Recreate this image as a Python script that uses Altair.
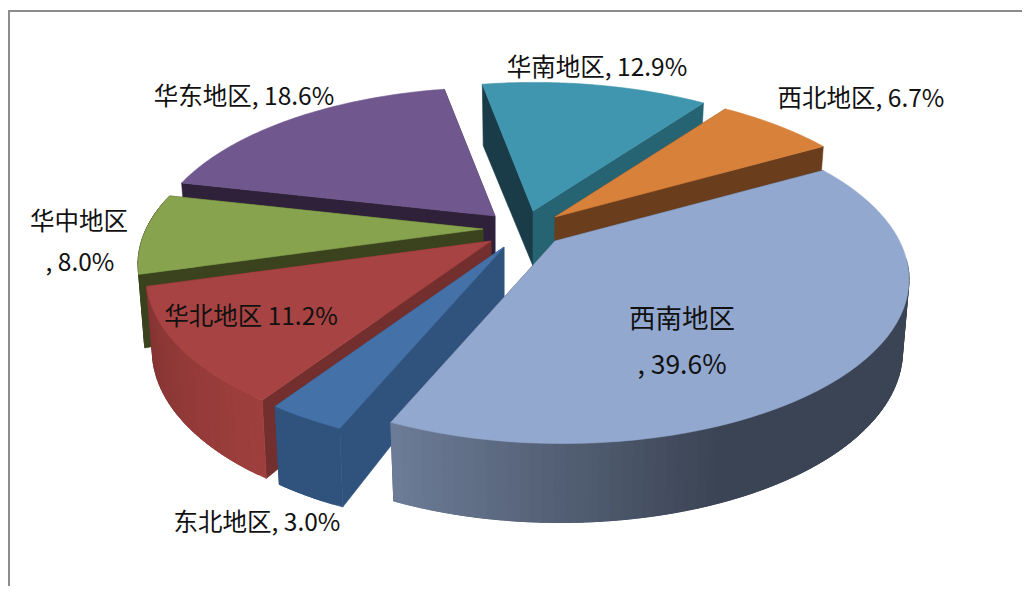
import math
import altair as alt
import pandas as pd

# values, clockwise from the 西南 slice
regions = ["西南地区", "东北地区", "华北地区", "华中地区", "华东地区", "华南地区", "西北地区"]
shares = [39.6, 3.0, 11.2, 8.0, 18.6, 12.9, 6.7]

# colours
top_colors = ["#93A8CF", "#4472A8", "#A74342", "#87A34E", "#70578E", "#4096AF", "#D8813B"]
first_wall = ["#3B4454", "#30537D", "#722F2E", "#3A431E", "#2E2139", "#1A3C48", "#6A3E1C"]
last_wall = ["#3B4454", "#30537D", "#722F2E", "#3A431E", "#2E2139", "#276473", "#6A3E1C"]
rim_start = ["#3B4454", "#30537D", "#9E3F3D", "#3A431E", "#2E2139", "#276473", "#6A3E1C"]
rim_end = ["#6E7E99", "#30537D", "#843433", "#3A431E", "#2E2139", "#276473", "#6A3E1C"]

# exploded position of each slice's tip, page pixels
tips = [(555, 241), (504, 247), (491, 241), (483, 229), (495, 216), (533, 211), (555, 217)]
draw_order = [4, 5, 6, 3, 2, 1, 0]

# label layout
label_text = ["华南地区, 12.9%", "西北地区, 6.7%", "华东地区, 18.6%", "华中地区", ", 8.0%",
              "华北地区 11.2%", "西南地区", ", 39.6%", "东北地区, 3.0%"]
label_x = [597, 861, 244, 79, 80, 251, 682, 682, 257]
label_y = [69, 100, 98, 223, 264, 318, 320, 366, 524]
label_size = [24.5, 24.5, 24.5, 24.5, 24.5, 24.5, 26.5, 26.5, 24.5]

START_DEG = 53.0
A, B, D, E, G, H = 338.0, 42.0, 20.3, -156.0, -0.04, 0.22
OFF = 8


def project(theta, r):
    s, c = math.sin(math.radians(theta)), math.cos(math.radians(theta))
    w = 1 + r * (G * s + H * c)
    return r * (A * s + B * c) / w, r * (D * s + E * c) / w, c


def top_pt(i, theta, r=1.0):
    vx, vy, _ = project(theta, r)
    return [tips[i][0] + vx - OFF, tips[i][1] + vy - OFF]


def low_pt(i, theta, r=1.0):
    vx, vy, c = project(theta, r)
    depth = 55 + r * (15 - 9 * c)
    return [tips[i][0] + vx * (1 - 0.018) - OFF, tips[i][1] + vy + depth - OFF]


def hex_mix(a, b, t):
    ca = [int(a[k:k + 2], 16) for k in (1, 3, 5)]
    cb = [int(b[k:k + 2], 16) for k in (1, 3, 5)]
    return "#%02x%02x%02x" % tuple(round(x + (y - x) * t) for x, y in zip(ca, cb))


def feature(ring, fill):
    return {"type": "Feature", "properties": {"fill": fill},
            "geometry": {"type": "Polygon", "coordinates": [ring + [ring[0]]]}}


spans, cur = [], START_DEG
for v in shares:
    spans.append((cur, cur + v * 3.6))
    cur += v * 3.6

features = []
for i in draw_order:
    t0, t1 = spans[i]
    tip_top, tip_low = top_pt(i, 0, 0), low_pt(i, 0, 0)
    features.append(feature([tip_top, top_pt(i, t0), low_pt(i, t0), tip_low], first_wall[i]))
    features.append(feature([tip_top, top_pt(i, t1), low_pt(i, t1), tip_low], last_wall[i]))
    steps = max(4, int((t1 - t0) / 1.5))
    for k in range(steps):
        a = t0 + (t1 - t0) * k / steps
        if math.cos(math.radians(a)) > 0.02:  # the far side of the rim is never seen
            continue
        # each piece runs on under the next one, so no seam shows between them
        pts_t = [a + (t1 - t0) * j / (4 * steps) for j in range(13) if a + (t1 - t0) * j / (4 * steps) <= t1]
        if i == 0:  # big slice: flat dark part, then a gradient towards its left end
            f = max(0.0, (a - 150) / (t1 - 150))
        else:
            f = k / max(1, steps - 1)
        ring = [top_pt(i, t) for t in pts_t] + [low_pt(i, t) for t in reversed(pts_t)]
        features.append(feature(ring, hex_mix(rim_start[i], rim_end[i], f)))
    arc = [top_pt(i, t0 + (t1 - t0) * k / 60) for k in range(61)]
    features.append(feature([tip_top] + arc, top_colors[i]))

pie = alt.Chart(alt.Data(values=features)).mark_geoshape(strokeWidth=0.6).encode(
    fill=alt.Fill("properties.fill:N", scale=None),
    stroke=alt.Stroke("properties.fill:N", scale=None),
).project(type="identity", scale=1, translate=[0, 0])

labels_df = pd.DataFrame({
    "text": label_text,
    "x": [v - OFF for v in label_x],
    "y": [v - OFF for v in label_y],
    "size": label_size,
})
labels = alt.Chart(labels_df).mark_text(font="Noto Sans CJK SC", color="#111111", baseline="middle", align="center").encode(
    x=alt.X("x:Q", scale=None),
    y=alt.Y("y:Q", scale=None),
    text="text:N",
    size=alt.Size("size:Q", scale=None, legend=None),
)

frame_src = pd.DataFrame({"a": [0]})
frame_left = alt.Chart(frame_src).mark_rule(color="#8C8C8C", strokeWidth=2).encode(
    x=alt.value(1), y=alt.value(2), y2=alt.value(578))
frame_top = alt.Chart(frame_src).mark_rule(color="#8C8C8C", strokeWidth=2).encode(
    x=alt.value(0), x2=alt.value(1014), y=alt.value(3))

chart = alt.layer(frame_left, frame_top, pie, labels).properties(
    width=1014, height=578, padding=0,
    autosize=alt.AutoSizeParams(type="none"),
    background="#FFFFFF",
).configure_view(stroke=None)

chart.save("out.html", embed_options={"renderer": "svg", "actions": False})
